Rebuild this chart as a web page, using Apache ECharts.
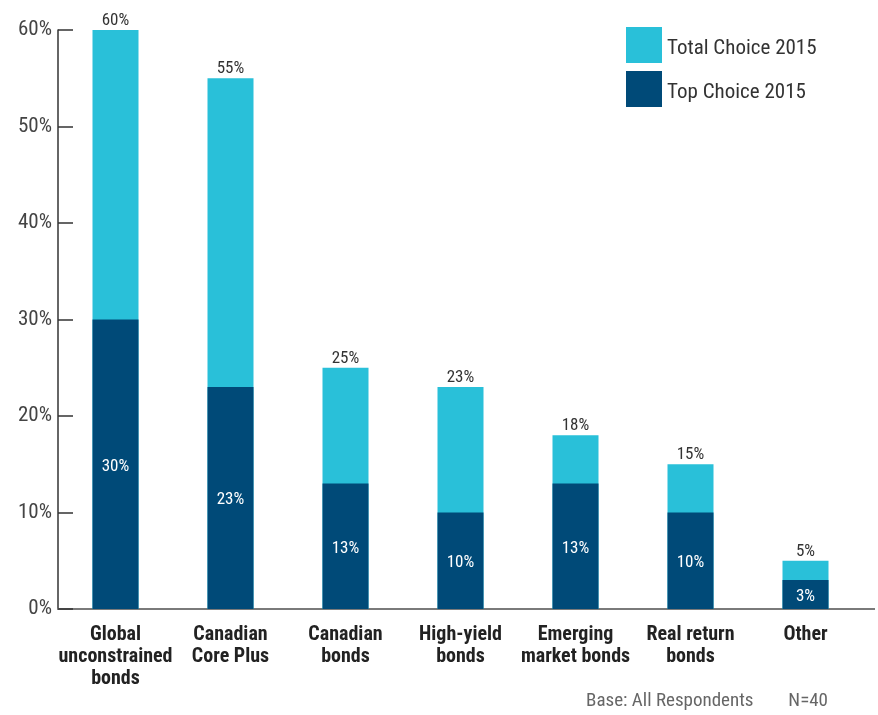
<!DOCTYPE html>
<html>
<head>
<meta charset="utf-8">
<script src="https://cdn.jsdelivr.net/npm/echarts@6/dist/echarts.min.js"></script>
<style>
  html, body { margin: 0; padding: 0; background: #fff; }
  #chart { width: 878px; height: 715px; }
</style>
</head>
<body>
<div id="chart"></div>
<script>
// Fixed income mandates: share of respondents choosing each option
const categories = [
  'Global\nunconstrained\nbonds',
  'Canadian\nCore Plus',
  'Canadian\nbonds',
  'High-yield\nbonds',
  'Emerging\nmarket bonds',
  'Real return\nbonds',
  'Other'
];
const totalChoice = [60, 55, 25, 23, 18, 15, 5];
const topChoice = [30, 23, 13, 10, 13, 10, 3];
const seriesNames = ['Total Choice 2015', 'Top Choice 2015'];
const footnote = 'Base: All Respondents        N=40';

const FONT = "'Liberation Sans Narrow', 'Roboto Condensed', 'Arial Narrow', sans-serif";
const LIGHT = '#29c0d9';
const DARK = '#004a78';

const chart = echarts.init(document.getElementById('chart'), null, { renderer: 'canvas' });

chart.setOption({
  animation: false,
  backgroundColor: '#ffffff',
  grid: { left: 58, right: 15, top: 30, bottom: 106, containLabel: false },
  legend: {
    orient: 'vertical',
    left: 626,
    top: 27,
    padding: 0,
    itemWidth: 36,
    itemHeight: 36,
    itemGap: 8,
    icon: 'rect',
    data: seriesNames,
    formatter: '{t|{name}}',
    textStyle: {
      fontFamily: FONT,
      fontSize: 21,
      color: '#333',
      rich: {
        t: { fontFamily: FONT, fontSize: 21, color: '#333', padding: [8, 0, 0, 0] }
      }
    }
  },
  xAxis: {
    type: 'category',
    data: categories,
    axisLine: { lineStyle: { color: '#7a7a7a', width: 2 } },
    axisTick: { show: false },
    axisLabel: {
      interval: 0,
      margin: 15,
      fontFamily: FONT,
      fontWeight: 'bold',
      fontSize: 20,
      lineHeight: 22,
      color: '#222'
    }
  },
  yAxis: {
    type: 'value',
    min: 0,
    max: 60,
    interval: 10,
    splitLine: { show: false },
    axisLine: { show: true, lineStyle: { color: '#333', width: 1.5 } },
    axisTick: { show: true, inside: true, length: 15, lineStyle: { color: '#333', width: 1.5 } },
    axisLabel: {
      formatter: '{value}%',
      margin: 6,
      fontFamily: FONT,
      fontSize: 21,
      color: '#444'
    }
  },
  series: [
    {
      name: seriesNames[0],
      type: 'bar',
      data: totalChoice,
      barWidth: 46,
      barGap: '-100%',
      itemStyle: { color: LIGHT },
      label: {
        show: true,
        position: 'top',
        distance: 1,
        formatter: '{c}%',
        fontFamily: FONT,
        fontSize: 17,
        color: '#333'
      }
    },
    {
      name: seriesNames[1],
      type: 'bar',
      data: topChoice,
      barWidth: 46,
      barGap: '-100%',
      itemStyle: { color: DARK },
      label: {
        show: true,
        position: 'inside',
        offset: [0, 2],
        formatter: '{c}%',
        fontFamily: FONT,
        fontSize: 17,
        color: '#ffffff'
      }
    }
  ],
  graphic: [
    {
      type: 'line',
      shape: { x1: 862, y1: 609, x2: 875, y2: 609 },
      style: { stroke: '#7a7a7a', lineWidth: 2 }
    },
    {
      type: 'text',
      right: 50,
      top: 692,
      style: {
        text: footnote,
        fontFamily: FONT,
        fontSize: 19,
        fill: '#666'
      }
    }
  ]
});
</script>
</body>
</html>
